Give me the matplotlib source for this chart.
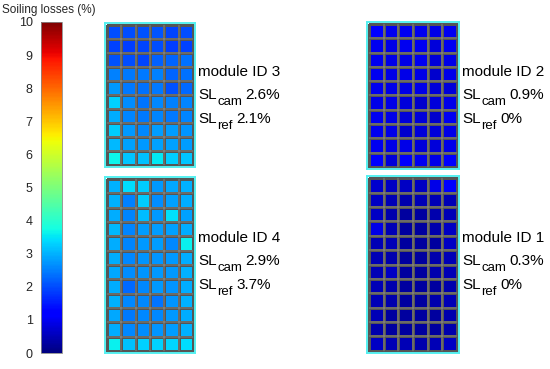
import numpy as np
import matplotlib
matplotlib.use("Agg")
import matplotlib.pyplot as plt

plt.rcParams['font.family'] = ['Liberation Sans', 'DejaVu Sans']

# soiling losses (%) per cell, rows top -> bottom
mod3 = [
    [2.0, 2.0, 2.05, 2.1, 1.95, 2.0],
    [1.9, 1.85, 1.95, 2.0, 1.85, 1.9],
    [2.05, 2.0, 1.95, 2.2, 2.25, 2.35],
    [2.5, 2.45, 2.45, 2.5, 2.25, 2.35],
    [2.75, 2.45, 2.35, 2.45, 2.05, 2.3],
    [3.3, 2.65, 2.4, 2.6, 2.5, 2.55],
    [2.95, 2.55, 2.45, 2.55, 2.45, 2.55],
    [3.25, 2.75, 2.6, 2.8, 2.8, 2.7],
    [3.05, 2.85, 2.75, 2.85, 2.85, 2.8],
    [3.65, 3.2, 3.15, 3.55, 3.25, 3.2],
]
mod4 = [
    [3.0, 3.4, 3.25, 2.75, 2.9, 3.0],
    [3.0, 2.5, 3.25, 2.65, 2.85, 2.95],
    [2.95, 2.55, 3.1, 2.75, 3.45, 2.85],
    [3.05, 2.55, 2.8, 2.8, 2.85, 2.95],
    [2.95, 2.55, 2.75, 2.8, 2.6, 3.6],
    [2.95, 2.6, 2.7, 2.7, 2.75, 2.95],
    [2.9, 2.65, 2.7, 2.75, 2.75, 3.0],
    [2.95, 2.3, 2.6, 2.75, 2.7, 2.95],
    [3.0, 2.6, 2.6, 2.4, 2.7, 3.0],
    [2.9, 2.45, 2.6, 2.6, 2.75, 2.95],
    [2.95, 2.6, 2.65, 2.7, 2.8, 3.0],
    [3.6, 3.15, 3.3, 3.3, 3.35, 3.4],
]
mod2 = [
    [1.1, 1.0, 1.0, 1.0, 0.9, 1.0],
    [1.0, 0.9, 1.0, 1.0, 0.8, 1.0],
    [1.0, 0.9, 0.9, 1.0, 0.8, 0.9],
    [1.0, 0.9, 0.9, 0.9, 0.7, 0.9],
    [1.0, 0.9, 0.9, 0.9, 0.8, 0.8],
    [0.9, 0.9, 0.8, 0.7, 0.8, 0.9],
    [1.0, 0.9, 0.8, 0.8, 0.7, 1.0],
    [1.0, 0.9, 0.7, 0.8, 0.8, 0.9],
    [1.0, 0.9, 0.9, 0.8, 0.8, 0.9],
    [1.1, 0.8, 1.1, 1.0, 0.9, 1.1],
]
mod1 = [
    [0.7, 0.6, 0.6, 0.6, 0.9, 1.1],
    [0.6, 0.5, 0.4, 0.5, 0.5, 0.5],
    [0.6, 0.4, 0.3, 0.3, 0.4, 0.5],
    [0.9, 0.5, 0.3, 0.3, 0.4, 0.6],
    [0.5, 0.5, 0.3, 0.3, 0.3, 0.6],
    [0.5, 0.4, 0.3, 0.3, 0.4, 0.5],
    [0.5, 0.6, 0.3, 0.3, 0.4, 0.5],
    [0.5, 0.4, 0.3, 0.3, 0.3, 0.4],
    [0.5, 0.4, 0.3, 0.3, 0.4, 0.5],
    [0.5, 0.3, 0.3, 0.3, 0.3, 0.4],
    [0.4, 0.3, 0.3, 0.3, 0.3, 0.4],
    [0.6, 0.5, 0.5, 0.4, 0.5, 0.6],
]

module_ids = ["3", "4", "2", "1"]
sl_cam = ["2.6%", "2.9%", "0.9%", "0.3%"]
sl_ref = ["2.1%", "3.7%", "0%", "0%"]
grids = [mod3, mod4, mod2, mod1]
cbar_ticks = list(range(0, 11))

W, H = 550, 369
fig = plt.figure(figsize=(W / 100, H / 100), dpi=100)
renderer = fig.canvas.get_renderer()

def px_axes(x0, y0, x1, y1):
    return fig.add_axes([x0 / W, 1 - y1 / H, (x1 - x0) / W, (y1 - y0) / H])

def px_text(x, y, s, **kw):
    t = fig.text(x / W, 1 - y / H, s, va='baseline', ha='left', color='black', **kw)
    return t.get_window_extent(renderer).x1

# pixel boxes of the module frames and the text baselines
boxes = [(105, 23, 195, 167), (105, 177, 195, 353),
         (367, 22, 459, 169), (367, 176, 459, 353)]
baselines = [(76, 99, 123), (242, 265, 289), (76, 99, 123), (242, 265, 289)]
cmap = plt.get_cmap('jet')
norm = matplotlib.colors.Normalize(0, 10)

for grid, box, base, mid, cam, ref in zip(grids, boxes, baselines, module_ids, sl_cam, sl_ref):
    g = np.array(grid)
    nr, nc = g.shape
    ax = px_axes(*box)
    ax.pcolormesh(g, cmap=cmap, norm=norm, edgecolors='#555555', linewidth=0.9)
    # light center lines of the cell gaps
    for i in range(1, nc):
        ax.plot([i, i], [0, nr], color='#c8c4b0', lw=0.3)
    for j in range(1, nr):
        ax.plot([0, nc], [j, j], color='#c8c4b0', lw=0.3)
    mx = 2.2 * nc / (box[2] - box[0])
    my = 2.2 * nr / (box[3] - box[1])
    ax.set_xlim(-mx, nc + mx)
    ax.set_ylim(nr + my, -my)
    ax.set_xticks([])
    ax.set_yticks([])
    for s in ax.spines.values():
        s.set_color('#55f0f0')
        s.set_linewidth(1.4)

    tx = box[2] + 3
    px_text(tx, base[0], "module ID " + mid, fontsize=11)
    for row, sub, val in [(1, "cam", cam), (2, "ref", ref)]:
        x1 = px_text(tx, base[row], "SL", fontsize=11)
        x2 = px_text(x1 + 1, base[row] + 6, sub, fontsize=9.5)
        px_text(x2 + 3, base[row], val, fontsize=11)

# colorbar
cax = px_axes(41, 22, 62, 353)
cb = fig.colorbar(matplotlib.cm.ScalarMappable(norm=norm, cmap=cmap), cax=cax,
                  ticks=cbar_ticks, ticklocation='left')
cb.outline.set_edgecolor('#888888')
cb.outline.set_linewidth(0.6)
cax.tick_params(length=0, labelsize=9, colors='#262626', pad=6)
fig.text(49 / W, 1 - 10 / H, "Soiling losses (%)", fontsize=8.5, ha='center', va='center', color='#262626')

fig.savefig("out.png", dpi=100)
